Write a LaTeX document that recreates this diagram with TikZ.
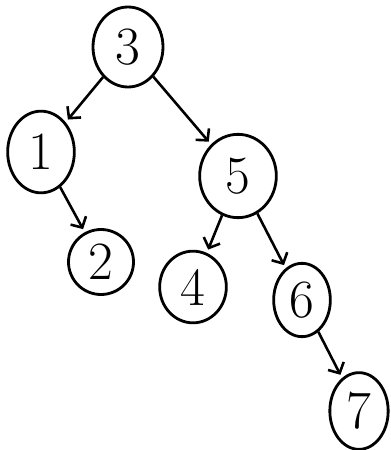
\documentclass[tikz,border=0pt]{standalone}
\usepackage{tikz}
\usetikzlibrary{shapes.geometric,arrows.meta}

\tikzset{
  key/.style={ellipse, draw, line width=2.4pt, inner sep=0pt, font=\fontsize{46}{46}\selectfont},
  edge/.style={line width=2.2pt, -{Straight Barb[length=7pt,width=15pt,line width=2.2pt]}, shorten >=3pt}
}

\begin{document}
\begin{tikzpicture}[x=0.03cm, y=-0.03cm]

    % frame
    \useasboundingbox (0,0) rectangle (390,450);

    % Keys
    \node[key, minimum width=2.1cm, minimum height=2.4cm] (n3) at (128,47) {3};
    \node[key, minimum width=2.0cm, minimum height=2.45cm] (n1) at (41,152) {1};
    \node[key, minimum width=2.3cm, minimum height=2.5cm] (n5) at (238,176) {5};
    \node[key, minimum width=1.95cm, minimum height=1.95cm] (n2) at (101,262) {2};
    \node[key, minimum width=2.0cm, minimum height=2.15cm] (n4) at (193,287) {4};
    \node[key, minimum width=1.7cm, minimum height=2.2cm] (n6) at (302,300) {6};
    \node[key, minimum width=1.75cm, minimum height=2.3cm] (n7) at (359,411) {7};

    % Links
    \draw[edge] (n3) -- (n1);
    \draw[edge] (n3) -- (n5);
    \draw[edge] (n1) -- (n2);
    \draw[edge] (n5) -- (n4);
    \draw[edge] (n5) -- (n6);
    \draw[edge] (n6) -- (n7);

  \end{tikzpicture}
\end{document}
